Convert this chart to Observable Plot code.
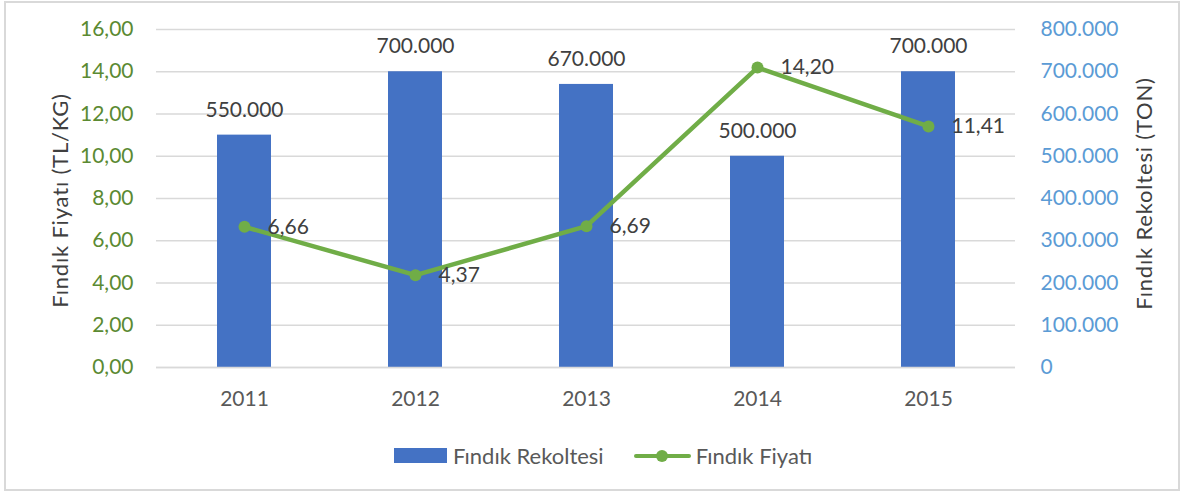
<!DOCTYPE html>
<html>
<head>
<meta charset="utf-8">
<script src="https://cdn.jsdelivr.net/npm/d3@7"></script>
<script src="https://cdn.jsdelivr.net/npm/@observablehq/plot@0.6"></script>
<style>
  html, body { margin: 0; padding: 0; background: #fff; }
  body { width: 1183px; height: 492px; position: relative; overflow: hidden; font-family: Lato, "Open Sans", sans-serif; }
  #wrap { position: absolute; left: 4px; top: 1px; width: 1172px; height: 486px; border: 2px solid #d9d9d9; background: #fff; }
  #chart { position: absolute; left: 0; top: 0; }
  #legend { position: absolute; left: 388px; top: 439px; display: flex; align-items: center; font-size: 22px; color: #595959; white-space: nowrap; }
  .sw-bar { display: inline-block; width: 53px; height: 15px; background: #4472C4; margin-right: 6px; }
  .sw-line { display: inline-block; position: relative; width: 57px; height: 15px; margin-left: 30px; margin-right: 5px; }
  .sw-line::before { content: ""; position: absolute; left: 0; right: 0; top: 5.5px; height: 4px; background: #70AD47; border-radius: 2px; }
  .sw-line::after { content: ""; position: absolute; left: 22px; top: 1.5px; width: 12px; height: 12px; border-radius: 50%; background: #70AD47; }
</style>
</head>
<body>
<div id="wrap">
  <div id="chart"></div>
  <div id="legend"><span class="sw-bar"></span><span>Fındık Rekoltesi</span><span class="sw-line"></span><span>Fındık Fiyatı</span></div>
</div>
<script>
const years = ["2011", "2012", "2013", "2014", "2015"];
const rekolte = [550000, 700000, 670000, 500000, 700000];
const fiyat = [6.66, 4.37, 6.69, 14.20, 11.41];
const leftTicks = [0, 2, 4, 6, 8, 10, 12, 14, 16];
const rightTicks = [0, 100000, 200000, 300000, 400000, 500000, 600000, 700000, 800000];
const ratio = 800000 / 16;

const loc = d3.formatLocale({decimal: ",", thousands: ".", grouping: [3], currency: ["", ""]});
const fmtTon = loc.format(",d");
const fmtPrice = loc.format(",.2f");

const data = years.map((y, i) => ({year: y, rek: rekolte[i], price: fiyat[i]}));

const fontSize = 21;
const chart = Plot.plot({
  width: 1172,
  height: 420,
  marginLeft: 150,
  marginRight: 163,
  marginTop: 26,
  marginBottom: 56,
  style: {fontFamily: "Lato, 'Open Sans', sans-serif", fontSize: fontSize + "px", background: "transparent"},
  x: {type: "band", domain: years, paddingInner: 0.686, paddingOuter: 0.343, label: null},
  y: {domain: [0, 16], label: null},
  marks: [
    Plot.gridY(leftTicks, {stroke: "#d9d9d9", strokeOpacity: 1, strokeWidth: 1.5}),
    Plot.barY(data, {x: "year", y: d => d.rek / ratio, fill: "#4472C4"}),
    Plot.gridY([0], {stroke: "#d9d9d9", strokeOpacity: 1, strokeWidth: 1.5}),
    Plot.line(data, {x: "year", y: "price", stroke: "#70AD47", strokeWidth: 4.5}),
    Plot.dot(data, {x: "year", y: "price", r: 6, fill: "#70AD47"}),
    Plot.text(data, {x: "year", y: d => d.rek / ratio, text: d => fmtTon(d.rek), dy: -25, fill: "#404040", fontSize: fontSize}),
    Plot.text(data, {x: "year", y: "price", text: d => fmtPrice(d.price), dx: 23, textAnchor: "start", fill: "#404040", fontSize: fontSize}),
    Plot.axisY(leftTicks, {anchor: "left", tickSize: 0, tickPadding: 23, tickFormat: d => fmtPrice(d), fill: "#5B8A32", fontSize: fontSize, label: null}),
    Plot.axisY(rightTicks.map(v => v / ratio), {anchor: "right", tickSize: 0, tickPadding: 25, tickFormat: d => fmtTon(d * ratio), fill: "#5B9BD5", fontSize: fontSize, label: null}),
    Plot.axisX({tickSize: 0, tickPadding: 24, fill: "#595959", fontSize: fontSize, label: null}),
    Plot.text(["Fındık Fiyatı (TL/KG)"], {frameAnchor: "left", textAnchor: "middle", dx: -96, dy: 2, rotate: -90, fill: "#404040", fontSize: 22}),
    Plot.text(["Fındık Rekoltesi (TON)"], {frameAnchor: "right", textAnchor: "middle", dx: 129, dy: -5, rotate: -90, fill: "#404040", fontSize: 22})
  ]
});
d3.select(chart).selectAll("text")
  .filter(function() { return this.textContent.includes("(T"); })
  .style("letter-spacing", "0.8px");
document.getElementById("chart").appendChild(chart);
</script>
</body>
</html>
